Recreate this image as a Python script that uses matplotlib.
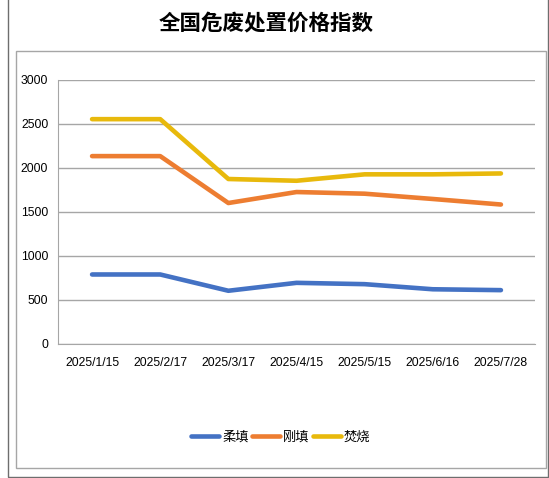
import matplotlib.pyplot as plt
from matplotlib.patches import Rectangle

plt.rcParams['font.family'] = ['Liberation Sans', 'Noto Sans CJK SC', 'DejaVu Sans']

# Data
dates = ['2025/1/15', '2025/2/17', '2025/3/17', '2025/4/15', '2025/5/15', '2025/6/16', '2025/7/28']
rou_tian = [790, 790, 605, 695, 680, 622, 612]
gang_tian = [2135, 2135, 1602, 1727, 1708, 1648, 1585]
fen_shao = [2555, 2555, 1875, 1855, 1928, 1928, 1938]
series_names = ['柔填', '刚填', '焚烧']
colors = ['#4472C4', '#ED7D31', '#E8B90C']
y_ticks = [0, 500, 1000, 1500, 2000, 2500, 3000]

W, H = 549, 478
fig = plt.figure(figsize=(W / 100, H / 100), dpi=100)
fig.patch.set_facecolor('white')

# frames (pixel coords -> figure fraction)
def px_rect(x0, y0, x1, y1, color, lw):
    r = Rectangle((x0 / W, 1 - y1 / H), (x1 - x0) / W, (y1 - y0) / H,
                  transform=fig.transFigure, fill=False, edgecolor=color, lw=lw)
    fig.add_artist(r)

px_rect(8, -5, 547.5, 476.8, '#6e6e6e', 1.0)
px_rect(15.5, 51, 546, 468, '#a6a6a6', 1.0)

fig.text(0.485, 1 - 23 / H, '全国危废处置价格指数', ha='center', va='center',
         fontsize=15.5, fontweight='bold', family=['Noto Sans CJK SC'])

ax = fig.add_axes([58 / W, 1 - 344 / H, (535 - 58) / W, (344 - 80) / H])
x = range(len(dates))
for vals, name, c in zip([rou_tian, gang_tian, fen_shao], series_names, colors):
    ax.plot(x, vals, color=c, lw=3.3, label=name, solid_capstyle='round', zorder=3)

ax.set_xlim(-0.5, len(dates) - 0.5)
ax.set_ylim(0, 3000)
ax.set_yticks(y_ticks)
ax.set_xticks(list(x))
ax.set_xticklabels(dates)
ax.tick_params(axis='both', length=0, labelsize=8.7, colors='#000000')
ax.tick_params(axis='x', pad=9)
ax.tick_params(axis='y', pad=7)
ax.grid(axis='y', color='#a6a6a6', lw=1.0)
ax.set_axisbelow(True)
for s in ['top', 'right']:
    ax.spines[s].set_visible(False)
ax.spines['left'].set_color('#a6a6a6')
ax.spines['bottom'].set_color('#a6a6a6')

leg = fig.legend(loc='center', bbox_to_anchor=(281 / W, 1 - 437 / H), ncol=3,
                 frameon=False, handlelength=2.1, handletextpad=0.25,
                 columnspacing=0.25, prop={'family': ['Noto Sans CJK SC'], 'size': 9.5})

fig.savefig('out.png', dpi=100, facecolor='white')
